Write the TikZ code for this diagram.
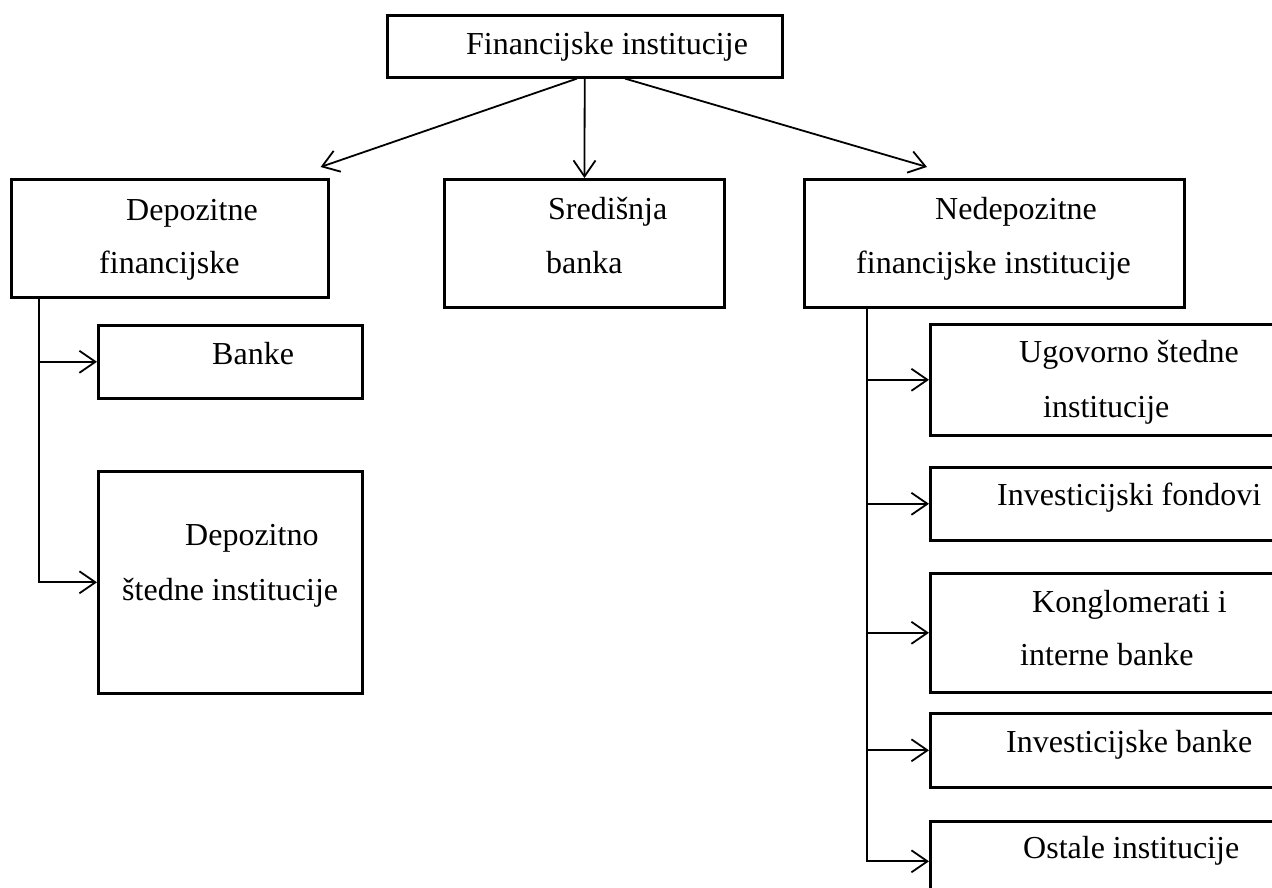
\documentclass[tikz,border=0pt]{standalone}
\usepackage{fontspec}
\setmainfont{Liberation Serif}
\usetikzlibrary{arrows.meta, calc}
\tikzset{box/.style = {draw, rectangle, line width=2.6pt, inner sep=0pt, anchor=north west},
         conn/.style = {line width=1.8pt, -{Straight Barb[length=16pt,width=22pt,line width=1.8pt]}},
         lbl/.style = {anchor=base west, inner sep=0pt, font=\fontsize{32}{38}\selectfont}}

\begin{document}
\begin{tikzpicture}[x=1pt, y=-1pt]
            \useasboundingbox (0,0) rectangle (1272,888);
            % boxes
            \node[box, minimum width=395, minimum height=62]  (fin)     at (386,14)  {};
            \node[box, minimum width=317, minimum height=118] (depo)    at (10,178)  {};
            \node[box, minimum width=280, minimum height=128] (sred)    at (443,178) {};
            \node[box, minimum width=380, minimum height=128] (nedepo)  at (803,178) {};
            \node[box, minimum width=264, minimum height=73]  (banke)   at (97,324)  {};
            \node[box, minimum width=264, minimum height=222] (dstedne) at (97,470)  {};
            \node[box, minimum width=361, minimum height=111] (ugov)    at (929,323) {};
            \node[box, minimum width=361, minimum height=73]  (fond)    at (929,466) {};
            \node[box, minimum width=361, minimum height=119] (kongl)   at (929,572) {};
            \node[box, minimum width=361, minimum height=74]  (ibanke)  at (929,712) {};
            \node[box, minimum width=361, minimum height=80]  (ostale)  at (929,820) {};
            % texts
            \node[lbl] (tfin)  at (466,55)  {Financijske institucije};
            \node[lbl] (tdep1) at (126,220) {Depozitne};
            \node[lbl] (tdep2) at (99,273)  {financijske};
            \node[lbl] (tsre1) at (548,219) {Središnja};
            \node[lbl] (tsre2) at (546,273) {banka};
            \node[lbl] (tned1) at (935,219) {Nedepozitne};
            \node[lbl] (tned2) at (856,273) {financijske institucije};
            \node[lbl] (tban)  at (212,364) {Banke};
            \node[lbl] (tdst1) at (185,545) {Depozitno};
            \node[lbl] (tdst2) at (122,600) {štedne institucije};
            \node[lbl] (tugo1) at (1019,362) {Ugovorno štedne};
            \node[lbl] (tugo2) at (1043,417) {institucije};
            \node[lbl] (tfon)  at (997,505)  {Investicijski fondovi};
            \node[lbl] (tkon1) at (1032,612) {Konglomerati i};
            \node[lbl] (tkon2) at (1020,665) {interne banke};
            \node[lbl] (tiba)  at (1006,752) {Investicijske banke};
            \node[lbl] (tost)  at (1023,858) {Ostale institucije};
            % connectors
            \coordinate (lfrom) at ($(fin.south west)+(191,0)$);
            \coordinate (rfrom) at ($(fin.south west)+(239,0)$);
            \coordinate (lto) at ($(depo.north east)+(-9,-11)$);
            \coordinate (rto) at ($(nedepo.north west)+(124,-11)$);
            \draw[conn] (lfrom) -- (lto);
            \draw[conn] (fin) -- (sred);
            \draw[conn] (rfrom) -- (rto);
            \coordinate (dtrunk) at ($(depo.south west)+(29,0)$);
            \coordinate (ntrunk) at ($(nedepo.south west)+(64,0)$);
            \foreach \b in {banke,dstedne}
                \draw[conn] (dtrunk) |- (\b.west);
            \foreach \b in {ugov,fond,kongl,ibanke,ostale}
                \draw[conn] (ntrunk) |- (\b.west);
        \end{tikzpicture}
\end{document}
